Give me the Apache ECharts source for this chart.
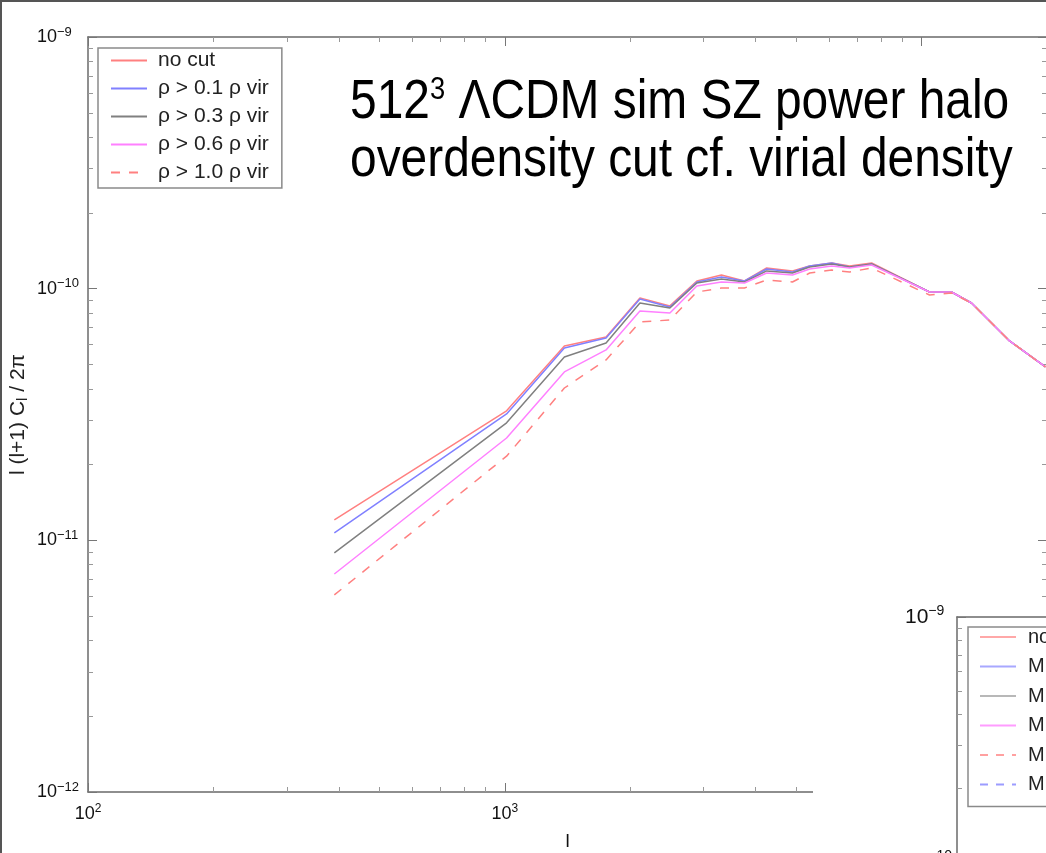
<!DOCTYPE html>
<html>
<head>
<meta charset="utf-8">
<script src="https://cdn.jsdelivr.net/npm/echarts@6/dist/echarts.min.js"></script>
<style>
  html, body { margin: 0; padding: 0; background: #fff; }
  #chart { width: 1046px; height: 853px; }
</style>
</head>
<body>
<div id="chart"></div>
<script>
// multipole l of each bin
var ells = [390, 1010, 1390, 1750, 2110, 2490, 2890, 3310, 3760, 4250, 4900, 5390, 6090, 6720, 7590, 10450, 11800, 13180, 16260, 19830];
// l(l+1)C_l/2pi for each halo overdensity cut
var noCut = [1.205e-11, 3.27e-11, 5.92e-11, 6.43e-11, 9.19e-11, 8.54e-11, 1.073e-10, 1.133e-10, 1.073e-10, 1.208e-10, 1.176e-10, 1.231e-10, 1.265e-10, 1.231e-10, 1.265e-10, 9.70e-11, 9.70e-11, 8.77e-11, 6.20e-11, 4.89e-11];
var cut01 = [1.070e-11, 3.18e-11, 5.81e-11, 6.37e-11, 9.10e-11, 8.46e-11, 1.063e-10, 1.113e-10, 1.073e-10, 1.197e-10, 1.165e-10, 1.231e-10, 1.265e-10, 1.220e-10, 1.253e-10, 9.70e-11, 9.70e-11, 8.77e-11, 6.20e-11, 4.89e-11];
var cut03 = [8.91e-12, 2.93e-11, 5.35e-11, 6.08e-11, 8.77e-11, 8.38e-11, 1.053e-10, 1.093e-10, 1.063e-10, 1.176e-10, 1.154e-10, 1.220e-10, 1.253e-10, 1.220e-10, 1.253e-10, 9.70e-11, 9.70e-11, 8.77e-11, 6.20e-11, 4.89e-11];
var cut06 = [7.35e-12, 2.55e-11, 4.67e-11, 5.71e-11, 8.15e-11, 8.01e-11, 1.025e-10, 1.063e-10, 1.053e-10, 1.154e-10, 1.133e-10, 1.197e-10, 1.231e-10, 1.208e-10, 1.242e-10, 9.70e-11, 9.70e-11, 8.77e-11, 6.20e-11, 4.89e-11];
var cut10 = [6.07e-12, 2.16e-11, 4.03e-11, 5.21e-11, 7.37e-11, 7.51e-11, 9.70e-11, 1.006e-10, 1.006e-10, 1.083e-10, 1.063e-10, 1.154e-10, 1.186e-10, 1.165e-10, 1.208e-10, 9.44e-11, 9.61e-11, 8.77e-11, 6.20e-11, 4.89e-11];

var names = ['no cut', 'ρ > 0.1 ρ vir', 'ρ > 0.3 ρ vir', 'ρ > 0.6 ρ vir', 'ρ > 1.0 ρ vir'];
// the inset figure only shows its legend
var insetNames = ['no cut ', 'M > 1e14', 'M > 5e13', 'M > 1e13', 'M > 5e12', 'M > 1e12'];

// tick positions
var xMajor = [100, 1000, 10000];
var xMinor = [200, 300, 400, 500, 600, 700, 800, 900, 2000, 3000, 4000, 5000, 6000, 7000, 8000, 9000];
var yMajor = [1e-12, 1e-11, 1e-10, 1e-9];
var yMinor = [2e-12, 3e-12, 4e-12, 5e-12, 6e-12, 7e-12, 8e-12, 9e-12,
              2e-11, 3e-11, 4e-11, 5e-11, 6e-11, 7e-11, 8e-11, 9e-11,
              2e-10, 3e-10, 4e-10, 5e-10, 6e-10, 7e-10, 8e-10, 9e-10];
var insetYMajor = [1e-12, 1e-11, 1e-10, 1e-9];
var insetYMinor = [2e-10, 3e-10, 4e-10, 5e-10, 6e-10, 7e-10, 8e-10, 9e-10];

var FONT = 'Liberation Sans, Arial, sans-serif';
var chart = echarts.init(document.getElementById('chart'));

function pow10(v) {
  var e = Math.round(Math.log(v) / Math.LN10);
  return '{b|10}{s|' + (e < 0 ? '\u2212' + (-e) : e) + '}';
}
function richLabels(big, small) {
  return {
    b: { fontSize: big, lineHeight: big + 5, fontFamily: FONT, color: '#111' },
    s: { fontSize: small, lineHeight: 8, verticalAlign: 'top', fontFamily: FONT, color: '#111' }
  };
}

function axis(pos, grid, min, max, ticks, len, tickColor, showLine, extra) {
  var a = {
    type: 'log', logBase: 10, gridIndex: grid, position: pos, min: min, max: max,
    axisLine: { show: showLine, onZero: false, lineStyle: { color: '#6a6a6a', width: 1.5 } },
    axisTick: { show: true, inside: true, length: len, customValues: ticks, lineStyle: { color: tickColor, width: 1 } },
    axisLabel: { show: false },
    splitLine: { show: false }
  };
  for (var k in extra) a[k] = extra[k];
  return a;
}

var xAxes = [
  axis('bottom', 0, 100, 20000, xMajor, 9, '#777', true, {
    axisLabel: { show: true, customValues: xMajor, margin: 11, formatter: pow10, rich: richLabels(18, 12) },
    name: 'l', nameLocation: 'middle', nameGap: 40, nameMoveOverlap: false,
    nameTextStyle: { fontSize: 19, fontFamily: FONT, color: '#111' }
  }),
  axis('bottom', 0, 100, 20000, xMinor, 5, '#999', false),
  axis('top', 0, 100, 20000, xMajor, 9, '#777', true),
  axis('top', 0, 100, 20000, xMinor, 5, '#999', false),
  axis('top', 1, 100, 20000, [], 0, '#777', true, { z: 11, axisTick: { show: false } }),
  axis('bottom', 1, 100, 20000, [], 0, '#777', false, { z: 11, axisTick: { show: false } })
];
var yAxes = [
  axis('left', 0, 1e-12, 1e-9, yMajor, 9, '#777', true, {
    axisLabel: { show: true, customValues: yMajor, margin: 51, align: 'left', formatter: pow10, rich: richLabels(18, 13) },
    name: '{a|l (l+1) C}{u|l}{a| / 2π}', nameLocation: 'middle', nameGap: 58, nameRotate: 90,
    nameMoveOverlap: false,
    nameTextStyle: {
      rich: {
        a: { fontSize: 21, lineHeight: 24, fontFamily: FONT, color: '#222' },
        u: { fontSize: 15, lineHeight: 12, verticalAlign: 'bottom', fontFamily: FONT, color: '#222' }
      }
    }
  }),
  axis('left', 0, 1e-12, 1e-9, yMinor, 5, '#999', false),
  axis('right', 0, 1e-12, 1e-9, yMajor, 9, '#777', true),
  axis('right', 0, 1e-12, 1e-9, yMinor, 5, '#999', false),
  axis('left', 1, 1e-12, 1e-9, insetYMajor, 9, '#777', true, {
    z: 11,
    axisLabel: { show: true, customValues: insetYMajor, margin: 52, align: 'left', formatter: pow10, rich: richLabels(21, 14) }
  }),
  axis('left', 1, 1e-12, 1e-9, insetYMinor, 5, '#999', false, { z: 11 })
];

function pairs(ys) {
  return ells.map(function (l, i) { return [l, ys[i]]; });
}
var colors = ['#ff8080', '#8080ff', '#808080', '#ff80ff', '#ff8080'];
var values = [noCut, cut01, cut03, cut06, cut10];
var series = values.map(function (ys, i) {
  return {
    name: names[i], type: 'line', xAxisIndex: 0, yAxisIndex: 0,
    data: pairs(ys), symbol: 'none', smooth: false,
    lineStyle: { color: colors[i], width: 1.5, type: i === 4 ? [9, 9] : 'solid' },
    itemStyle: { color: colors[i] }
  };
});
var insetColors = ['#ffa8a8', '#a8a8ff', '#b8b8b8', '#ff9cff', '#ffa0a0', '#9c9cff'];
insetNames.forEach(function (n, i) {
  series.push({
    name: n, type: 'line', xAxisIndex: 4, yAxisIndex: 4, data: [], symbol: 'none', z: 11,
    lineStyle: { color: insetColors[i], width: 1.5, type: i >= 4 ? [8, 8] : 'solid' },
    itemStyle: { color: insetColors[i] }
  });
});

var option = {
  animation: false,
  backgroundColor: '#fff',
  grid: [
    { left: 88, top: 37, width: 959, height: 755, outerBoundsMode: 'none' },
    // inset: 10^-9 at its top edge, 245 px per decade, runs off the page
    { left: 957, top: 617, width: 600, height: 735, outerBoundsMode: 'none' }
  ],
  xAxis: xAxes,
  yAxis: yAxes,
  legend: [{
    data: names, orient: 'vertical', left: 98, top: 48,
    itemWidth: 36, itemHeight: 14, itemGap: 7,
    padding: [2, 13, 5, 12],
    itemStyle: { opacity: 0 },
    borderColor: '#8a8a8a', borderWidth: 1.5, backgroundColor: '#fff',
    textStyle: { fontSize: 21, fontFamily: FONT, color: '#222', lineHeight: 20, padding: [0, 0, 0, 6] }
  }, {
    data: insetNames, orient: 'vertical', left: 968, top: 627, z: 12,
    itemWidth: 36, itemHeight: 14, itemGap: 9.5,
    padding: [0, 300, 12, 11],
    itemStyle: { opacity: 0 },
    borderColor: '#8a8a8a', borderWidth: 1.5, backgroundColor: '#fff',
    textStyle: { fontSize: 20, fontFamily: FONT, color: '#222', lineHeight: 20, padding: [0, 0, 0, 7] }
  }],
  graphic: [
    {
      type: 'rect', z: 10, silent: true,
      shape: { x: 813, y: 598, width: 260, height: 280 },
      style: { fill: '#fff' }
    },
    {
      type: 'text', x: 350, y: 74, scaleX: 0.855, z: 20,
      style: {
        text: '{a|512}{s|3}{a| ΛCDM sim SZ power halo}\n{a|overdensity cut cf. virial density}',
        textAlign: 'left', textVerticalAlign: 'top',
        rich: {
          a: { fontSize: 56, lineHeight: 58, fontFamily: FONT, color: '#000' },
          s: { fontSize: 32, lineHeight: 20, verticalAlign: 'top', fontFamily: FONT, color: '#000' }
        }
      }
    },
    {
      type: 'rect', z: 30, silent: true,
      shape: { x: 1, y: 1, width: 1100, height: 900 },
      style: { fill: 'none', stroke: '#555', lineWidth: 2 }
    }
  ],
  series: series
};
chart.setOption(option);
</script>
</body>
</html>
